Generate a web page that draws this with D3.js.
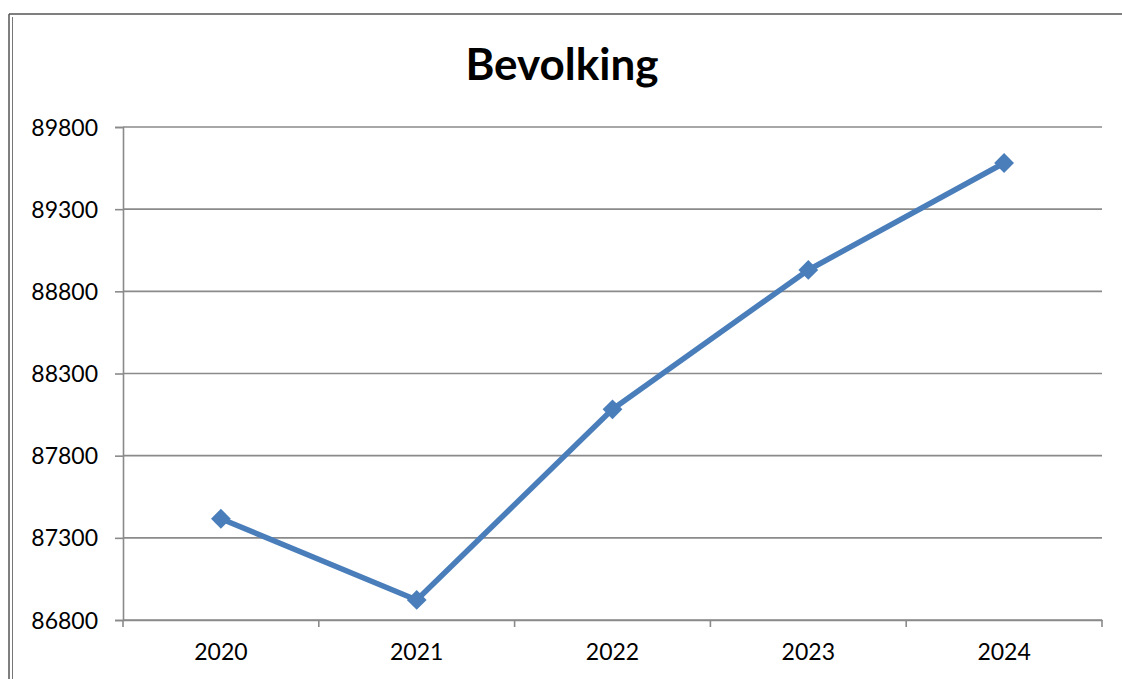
<!DOCTYPE html>
<html>
<head>
<meta charset="utf-8">
<script src="https://cdn.jsdelivr.net/npm/d3@7"></script>
<style>
  html, body { margin: 0; padding: 0; background: #fff; }
  svg { display: block; }
  text { font-family: Lato, "Open Sans", sans-serif; fill: #000; }
</style>
</head>
<body>
<div id="chart"></div>
<script>
const years = ['2020', '2021', '2022', '2023', '2024'];
const population = [87416, 86922, 88082, 88930, 89581];
const yTicks = [86800, 87300, 87800, 88300, 88800, 89300, 89800];
const title = 'Bevolking';

const W = 1122, H = 679;
const margin = { top: 127, right: 20, bottom: 59, left: 123 };
const width = 1102 - margin.left;
const height = 620 - margin.top;

const root = d3.select('#chart').append('svg')
    .attr('width', W)
    .attr('height', H);

// outer frame (top line + double line at left)
root.append('line').attr('x1', 9).attr('x2', W).attr('y1', 14).attr('y2', 14)
    .attr('stroke', '#555').attr('stroke-width', 1.5);
root.append('line').attr('x1', 9).attr('x2', 9).attr('y1', 14).attr('y2', H)
    .attr('stroke', '#555').attr('stroke-width', 1.5);
root.append('line').attr('x1', 12.5).attr('x2', 12.5).attr('y1', 17).attr('y2', H)
    .attr('stroke', '#777').attr('stroke-width', 1);

root.append('text')
    .attr('x', 562)
    .attr('y', 80)
    .attr('text-anchor', 'middle')
    .style('font-size', '44px')
    .style('font-weight', 'bold')
    .text(title);

const svg = root.append('g')
    .attr('transform', `translate(${margin.left},${margin.top})`);

const x = d3.scaleBand().domain(years).range([0, width]).padding(0);
const y = d3.scaleLinear().domain([86800, 89800]).range([height, 0]);

// horizontal gridlines
svg.selectAll('.grid')
    .data(yTicks)
    .enter()
    .append('line')
    .attr('class', 'grid')
    .attr('x1', 0)
    .attr('x2', width)
    .attr('y1', d => y(d))
    .attr('y2', d => y(d))
    .attr('stroke', '#8a8a8a')
    .attr('stroke-width', 1.6);

// y axis
const yAxis = svg.append('g')
    .call(d3.axisLeft(y).tickValues(yTicks).tickSize(8).tickPadding(17).tickFormat(d3.format('d')));
yAxis.select('.domain').attr('stroke', '#8a8a8a').attr('stroke-width', 1.6);
yAxis.selectAll('.tick line').attr('stroke', '#8a8a8a').attr('stroke-width', 1.6);
yAxis.selectAll('text').style('font-size', '23px').attr('dy', '0.35em');

// x axis with ticks on category boundaries
const xAxis = svg.append('g')
    .attr('transform', `translate(0,${height})`)
    .call(d3.axisBottom(x).tickSize(0).tickPadding(24));
xAxis.select('.domain').attr('stroke', '#8a8a8a').attr('stroke-width', 1.6);
xAxis.selectAll('text').style('font-size', '23px');
const bounds = years.map(d => x(d)).concat([x(years[years.length - 1]) + x.bandwidth()]);
xAxis.selectAll('.bound')
    .data(bounds)
    .enter()
    .append('line')
    .attr('class', 'bound')
    .attr('x1', d => d).attr('x2', d => d)
    .attr('y1', 0).attr('y2', 7)
    .attr('stroke', '#8a8a8a')
    .attr('stroke-width', 1.6);

const data = years.map((yr, i) => ({ year: yr, value: population[i] }));
const cx = d => x(d.year) + x.bandwidth() / 2;

const line = d3.line()
    .x(cx)
    .y(d => y(d.value));

svg.append('path')
    .datum(data)
    .attr('d', line)
    .attr('fill', 'none')
    .attr('stroke', '#4a7ebb')
    .attr('stroke-width', 5.5)
    .attr('stroke-linejoin', 'round');

svg.selectAll('.pt')
    .data(data)
    .enter()
    .append('rect')
    .attr('class', 'pt')
    .attr('x', -7)
    .attr('y', -7)
    .attr('width', 14)
    .attr('height', 14)
    .attr('fill', '#4a7ebb')
    .attr('transform', d => `translate(${cx(d)},${y(d.value)}) rotate(45)`);
</script>
</body>
</html>
